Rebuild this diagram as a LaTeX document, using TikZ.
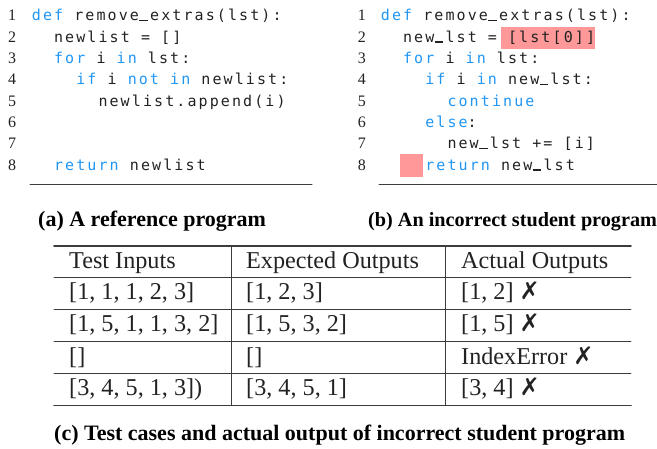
\documentclass[tikz,border=0pt]{standalone}
\usepackage{fontspec}
\usepackage{tikz}
\setmainfont{Liberation Serif}
\newfontfamily\codefont[LetterSpace=14]{DejaVu Sans Mono}
\newfontfamily\symfont{DejaVu Sans}
\definecolor{kwblue}{RGB}{33,150,243}
\definecolor{hilite}{RGB}{255,153,153}
\definecolor{codetext}{RGB}{34,34,34}
\definecolor{rulegray}{RGB}{60,60,60}
\newcommand{\kw}[1]{\textcolor{kwblue}{#1}}
\newcommand{\us}{\makebox[11.13pt][l]{\hspace{0.3pt}\rule[-0.6pt]{8.6pt}{1.3pt}}}
\newcommand{\wrong}{{\symfont\bfseries ✗}}
\tikzset{
  codeline/.style={anchor=base west,inner sep=0pt,text=codetext,font=\codefont\fontsize{15}{18}\selectfont},
  lnum/.style={anchor=base west,inner sep=0pt,text=codetext,font=\fontsize{16}{18}\selectfont},
  cell/.style={anchor=base west,inner sep=0pt,text=codetext,font=\fontsize{24.2}{28}\selectfont},
  capt/.style={anchor=base west,inner sep=0pt,text=black,font=\bfseries\fontsize{22}{26}\selectfont}
}
\begin{document}
\begin{tikzpicture}[line cap=round,line join=round,x=1pt,y=-1pt]
\useasboundingbox (0,0) rectangle (657,448);
% (a) reference program
\foreach \k in {1,...,8}
  \node[lnum] (la\k) at (8,{20.7+(\k-1)*21.33}) {\k};
\node[codeline] (a1) at (31.7,20.7) {\kw{def} remove\us extras(lst):};
\node[codeline] (a2) at (53.9,42.0) {newlist = []};
\node[codeline] (a3) at (53.9,63.4) {\kw{for} i \kw{in} lst:};
\node[codeline] (a4) at (76.1,84.7) {\kw{if} i \kw{not} \kw{in} newlist:};
\node[codeline] (a5) at (98.3,106.0) {newlist.append(i)};
\node[codeline] (a8) at (53.9,170.0) {\kw{return} newlist};
\draw [line width=1pt,rulegray] (30,184)-- (312,184);
% (b) incorrect student program
\fill [hilite] (501,27.3) rectangle (595,49);
\fill [hilite] (400,154) rectangle (422.7,176.7);
\foreach \k in {1,...,8}
  \node[lnum] (lb\k) at (357.7,{20.7+(\k-1)*21.33}) {\k};
\node[codeline] (b1) at (380.7,20.7) {\kw{def} remove\us extras(lst):};
\node[codeline] (b2) at (402.9,42.0) {new\us lst = [lst[0]]};
\node[codeline] (b3) at (402.9,63.4) {\kw{for} i \kw{in} lst:};
\node[codeline] (b4) at (425.1,84.7) {\kw{if} i \kw{in} new\us lst:};
\node[codeline] (b5) at (447.3,106.0) {\kw{continue}};
\node[codeline] (b6) at (425.1,127.3) {\kw{else}:};
\node[codeline] (b7) at (447.3,148.7) {new\us lst += [i]};
\node[codeline] (b8) at (425.1,170.0) {\kw{return} new\us lst};
\draw [line width=1pt,rulegray] (379,184)-- (657,184);
% captions
\node[capt] (capa) at (38,226.7) {(a) A reference program};
\node[capt,font=\bfseries\fontsize{20.2}{24}\selectfont] (capb) at (368,226.7) {(b) An incorrect student program};
% (c) table
\draw [line width=1.6pt,rulegray] (54,245.7)-- (631,245.7);
\draw [line width=0.9pt,rulegray] (54,277.3)-- (631,277.3);
\draw [line width=0.9pt,rulegray] (54,309.3)-- (631,309.3);
\draw [line width=0.9pt,rulegray] (54,341.7)-- (631,341.7);
\draw [line width=0.9pt,rulegray] (54,373.3)-- (631,373.3);
\draw [line width=1.6pt,rulegray] (54,405.3)-- (631,405.3);
\draw [line width=0.9pt,rulegray] (231,245.7)-- (231,405.3);
\draw [line width=0.9pt,rulegray] (445,245.7)-- (445,405.3);
\node[cell] (h1) at (69,268.2) {Test Inputs};
\node[cell] (h2) at (246,268.2) {Expected Outputs};
\node[cell] (h3) at (461,268.2) {Actual Outputs};
\node[cell] (r1a) at (69,299.8) {[1, 1, 1, 2, 3]};
\node[cell] (r1b) at (246,299.8) {[1, 2, 3]};
\node[cell] (r1c) at (461,299.8) {[1, 2] \wrong};
\node[cell] (r2a) at (69,331.8) {[1, 5, 1, 1, 3, 2]};
\node[cell] (r2b) at (246,331.8) {[1, 5, 3, 2]};
\node[cell] (r2c) at (461,331.8) {[1, 5] \wrong};
\node[cell] (r3a) at (69,364.2) {[]};
\node[cell] (r3b) at (246,364.2) {[]};
\node[cell] (r3c) at (461,364.2) {IndexError \wrong};
\node[cell] (r4a) at (69,395.8) {[3, 4, 5, 1, 3])};
\node[cell] (r4b) at (246,395.8) {[3, 4, 5, 1]};
\node[cell] (r4c) at (461,395.8) {[3, 4] \wrong};
\node[capt] (capc) at (54,440.7) {(c) Test cases and actual output of incorrect student program};
\end{tikzpicture}
\end{document}
